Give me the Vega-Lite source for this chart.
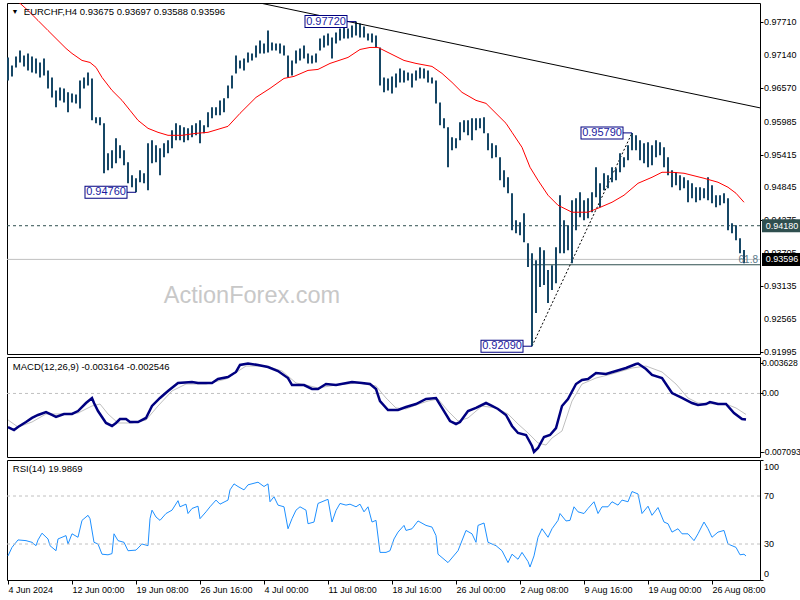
{
"$schema": "https://vega.github.io/schema/vega-lite/v6.json",
"background": "white",
"padding": {"left": 2, "top": 2, "right": 0, "bottom": 0},
"spacing": 3,
"bounds": "flush",
"config": {
  "view": {"stroke": "#000000", "strokeWidth": 1},
  "axis": {"labelFont": "Liberation Sans", "labelFontSize": 9, "labelColor": "#000000", "tickColor": "#000000", "domain": false, "grid": false, "labelFlush": false, "labelOverlap": false},
  "text": {"font": "Liberation Sans", "fontSize": 9.5, "color": "#000000"}
},
"datasets": {
  "one": [{}],
  "mainLabels": [{"v":0.9771,"t":"0.97710"},{"v":0.9714,"t":"0.97140"},{"v":0.9657,"t":"0.96570"},{"v":0.95985,"t":"0.95985"},{"v":0.95415,"t":"0.95415"},{"v":0.94845,"t":"0.94845"},{"v":0.94275,"t":"0.94275"},{"v":0.93705,"t":"0.93705"},{"v":0.93135,"t":"0.93135"},{"v":0.92565,"t":"0.92565"},{"v":0.91995,"t":"0.91995"}],
  "macdLabels": [{"v":0.003628,"t":"0.003628"},{"v":0,"t":"0.00"},{"v":-0.007093,"t":"-0.007093"}],
  "rsiLabels": [{"v":70,"t":"70"},{"v":30,"t":"30"}],
  "bars": [
{"i":0,"h":0.97099,"l":0.96700},{"i":2,"h":0.96960,"l":0.96770},{"i":4,"h":0.97116,"l":0.96926},{"i":6,"h":0.97220,"l":0.97012},{"i":8,"h":0.97133,"l":0.96943},{"i":10,"h":0.97168,"l":0.96874},{"i":12,"h":0.97116,"l":0.96839},{"i":14,"h":0.97081,"l":0.96822},{"i":16,"h":0.97012,"l":0.96752},{"i":18,"h":0.97081,"l":0.96787},
{"i":20,"h":0.96874,"l":0.96562},{"i":22,"h":0.96752,"l":0.96406},{"i":24,"h":0.96527,"l":0.96233},{"i":26,"h":0.96579,"l":0.96354},{"i":28,"h":0.96562,"l":0.96319},{"i":30,"h":0.96493,"l":0.96146},{"i":32,"h":0.96475,"l":0.96319},{"i":34,"h":0.96458,"l":0.96302},{"i":36,"h":0.96700,"l":0.96215},{"i":38,"h":0.96752,"l":0.96562},
{"i":40,"h":0.96839,"l":0.96614},{"i":42,"h":0.96735,"l":0.96008},{"i":44,"h":0.96060,"l":0.95956},{"i":46,"h":0.96060,"l":0.95921},{"i":48,"h":0.95956,"l":0.95090},{"i":50,"h":0.95436,"l":0.95142},{"i":52,"h":0.95488,"l":0.95176},{"i":54,"h":0.95696,"l":0.95263},{"i":56,"h":0.95575,"l":0.95349},{"i":58,"h":0.95488,"l":0.95228},
{"i":60,"h":0.95280,"l":0.94916},{"i":62,"h":0.95055,"l":0.94847},{"i":64,"h":0.95003,"l":0.94760},{"i":66,"h":0.95142,"l":0.94934},{"i":68,"h":0.95090,"l":0.94916},{"i":70,"h":0.95609,"l":0.94795},{"i":72,"h":0.95661,"l":0.95263},{"i":74,"h":0.95575,"l":0.95280},{"i":76,"h":0.95523,"l":0.95055},{"i":78,"h":0.95609,"l":0.95367},
{"i":80,"h":0.95661,"l":0.95436},{"i":82,"h":0.95834,"l":0.95523},{"i":84,"h":0.95956,"l":0.95661},{"i":86,"h":0.95921,"l":0.95661},{"i":88,"h":0.95886,"l":0.95627},{"i":90,"h":0.95869,"l":0.95661},{"i":92,"h":0.95921,"l":0.95713},{"i":94,"h":0.95956,"l":0.95748},{"i":96,"h":0.96008,"l":0.95609},{"i":98,"h":0.95921,"l":0.95782},
{"i":100,"h":0.96146,"l":0.95886},{"i":102,"h":0.96233,"l":0.96042},{"i":104,"h":0.96233,"l":0.96094},{"i":106,"h":0.96354,"l":0.96094},{"i":108,"h":0.96389,"l":0.96146},{"i":110,"h":0.96614,"l":0.96389},{"i":112,"h":0.96787,"l":0.96562},{"i":114,"h":0.97133,"l":0.96822},{"i":116,"h":0.97047,"l":0.96908},{"i":118,"h":0.97081,"l":0.96874},
{"i":120,"h":0.97185,"l":0.97012},{"i":122,"h":0.97168,"l":0.97047},{"i":124,"h":0.97307,"l":0.97099},{"i":126,"h":0.97393,"l":0.97168},{"i":128,"h":0.97341,"l":0.97168},{"i":130,"h":0.97566,"l":0.97185},{"i":132,"h":0.97359,"l":0.97220},{"i":134,"h":0.97341,"l":0.97220},{"i":136,"h":0.97341,"l":0.97168},{"i":138,"h":0.97307,"l":0.97133},
{"i":140,"h":0.97133,"l":0.96752},{"i":142,"h":0.97047,"l":0.96787},{"i":144,"h":0.97220,"l":0.96995},{"i":146,"h":0.97255,"l":0.97047},{"i":148,"h":0.97307,"l":0.97081},{"i":150,"h":0.97168,"l":0.96995},{"i":152,"h":0.97133,"l":0.96995},{"i":154,"h":0.97168,"l":0.97012},{"i":156,"h":0.97428,"l":0.97220},{"i":158,"h":0.97480,"l":0.97272},
{"i":160,"h":0.97514,"l":0.97307},{"i":162,"h":0.97445,"l":0.97081},{"i":164,"h":0.97532,"l":0.97341},{"i":166,"h":0.97601,"l":0.97393},{"i":168,"h":0.97618,"l":0.97428},{"i":170,"h":0.97601,"l":0.97428},{"i":172,"h":0.97653,"l":0.97445},{"i":174,"h":0.97720,"l":0.97480},{"i":176,"h":0.97688,"l":0.97445},{"i":178,"h":0.97636,"l":0.97445},
{"i":180,"h":0.97514,"l":0.97393},{"i":182,"h":0.97514,"l":0.97359},{"i":184,"h":0.97480,"l":0.97272},{"i":186,"h":0.97272,"l":0.96614},{"i":188,"h":0.96752,"l":0.96493},{"i":190,"h":0.96735,"l":0.96527},{"i":192,"h":0.96770,"l":0.96475},{"i":194,"h":0.96822,"l":0.96579},{"i":196,"h":0.96908,"l":0.96666},{"i":198,"h":0.96874,"l":0.96666},
{"i":200,"h":0.96839,"l":0.96700},{"i":202,"h":0.96822,"l":0.96579},{"i":204,"h":0.96874,"l":0.96700},{"i":206,"h":0.96926,"l":0.96735},{"i":208,"h":0.96908,"l":0.96735},{"i":210,"h":0.96874,"l":0.96666},{"i":212,"h":0.96752,"l":0.96648},{"i":214,"h":0.96700,"l":0.96302},{"i":216,"h":0.96319,"l":0.95921},{"i":218,"h":0.96042,"l":0.95869},
{"i":220,"h":0.95886,"l":0.95194},{"i":222,"h":0.95713,"l":0.95488},{"i":224,"h":0.95696,"l":0.95523},{"i":226,"h":0.95973,"l":0.95661},{"i":228,"h":0.96008,"l":0.95800},{"i":230,"h":0.96008,"l":0.95748},{"i":232,"h":0.96042,"l":0.95661},{"i":234,"h":0.96042,"l":0.95834},{"i":236,"h":0.96042,"l":0.95869},{"i":238,"h":0.96060,"l":0.95782},
{"i":240,"h":0.95782,"l":0.95488},{"i":242,"h":0.95609,"l":0.95349},{"i":244,"h":0.95575,"l":0.95367},{"i":246,"h":0.95367,"l":0.94968},{"i":248,"h":0.95142,"l":0.94847},{"i":250,"h":0.95020,"l":0.94743},{"i":252,"h":0.94743,"l":0.94102},{"i":254,"h":0.94276,"l":0.94050},{"i":256,"h":0.94241,"l":0.94016},{"i":258,"h":0.94397,"l":0.93895},
{"i":260,"h":0.93877,"l":0.93462},{"i":262,"h":0.93704,"l":0.92090},{"i":264,"h":0.93583,"l":0.92665},{"i":266,"h":0.93808,"l":0.93115},{"i":268,"h":0.93756,"l":0.93150},{"i":270,"h":0.93410,"l":0.92838},{"i":272,"h":0.93496,"l":0.93063},{"i":274,"h":0.93808,"l":0.93184},{"i":276,"h":0.94709,"l":0.93704},{"i":278,"h":0.94276,"l":0.93704},
{"i":280,"h":0.94189,"l":0.93756},{"i":282,"h":0.94622,"l":0.93531},{"i":284,"h":0.94657,"l":0.94102},{"i":286,"h":0.94761,"l":0.94328},{"i":288,"h":0.94622,"l":0.94276},{"i":290,"h":0.94657,"l":0.94310},{"i":292,"h":0.94761,"l":0.94414},{"i":294,"h":0.95194,"l":0.94674},{"i":296,"h":0.94916,"l":0.94501},{"i":298,"h":0.95090,"l":0.94795},
{"i":300,"h":0.95055,"l":0.94830},{"i":302,"h":0.95194,"l":0.94934},{"i":304,"h":0.95176,"l":0.94968},{"i":306,"h":0.95436,"l":0.95107},{"i":308,"h":0.95367,"l":0.95194},{"i":310,"h":0.95575,"l":0.95315},{"i":312,"h":0.95790,"l":0.95488},{"i":314,"h":0.95748,"l":0.95488},{"i":316,"h":0.95661,"l":0.95315},{"i":318,"h":0.95609,"l":0.95263},
{"i":320,"h":0.95627,"l":0.95194},{"i":322,"h":0.95575,"l":0.95228},{"i":324,"h":0.95661,"l":0.95367},{"i":326,"h":0.95627,"l":0.95401},{"i":328,"h":0.95540,"l":0.95194},{"i":330,"h":0.95367,"l":0.95055},{"i":332,"h":0.95142,"l":0.94847},{"i":334,"h":0.95107,"l":0.94882},{"i":336,"h":0.95055,"l":0.94795},{"i":338,"h":0.95020,"l":0.94830},
{"i":340,"h":0.94968,"l":0.94587},{"i":342,"h":0.94916,"l":0.94657},{"i":344,"h":0.94847,"l":0.94587},{"i":346,"h":0.94847,"l":0.94622},{"i":348,"h":0.94830,"l":0.94657},{"i":350,"h":0.95020,"l":0.94622},{"i":352,"h":0.94882,"l":0.94570},{"i":354,"h":0.94709,"l":0.94501},{"i":356,"h":0.94709,"l":0.94535},{"i":358,"h":0.94743,"l":0.94570},
{"i":360,"h":0.94657,"l":0.94102},{"i":362,"h":0.94224,"l":0.94050},{"i":364,"h":0.94189,"l":0.93929},{"i":366,"h":0.93964,"l":0.93704},{"i":368,"h":0.93760,"l":0.93531}
  ],
  "ma": [
{"i":0,"v":0.98242},{"i":5,"v":0.98069},{"i":10,"v":0.97913},{"i":15,"v":0.97740},{"i":20,"v":0.97566},{"i":25,"v":0.97393},{"i":29,"v":0.97255},{"i":32,"v":0.97168},{"i":37,"v":0.97047},{"i":41,"v":0.97012},{"i":44,"v":0.96926},{"i":47,"v":0.96752},{"i":52,"v":0.96527},{"i":57,"v":0.96354},{"i":61,"v":0.96181},{"i":65,"v":0.96008},{"i":70,"v":0.95869},{"i":75,"v":0.95800},{"i":80,"v":0.95748},{"i":87,"v":0.95748},{"i":94,"v":0.95782},{"i":100,"v":0.95800},{"i":110,"v":0.95904},{"i":116,"v":0.96129},{"i":124,"v":0.96406},{"i":131,"v":0.96562},{"i":138,"v":0.96735},{"i":143,"v":0.96770},{"i":150,"v":0.96874},{"i":155,"v":0.96891},{"i":161,"v":0.96995},{"i":170,"v":0.97099},{"i":176,"v":0.97237},{"i":181,"v":0.97272},{"i":185,"v":0.97272},{"i":191,"v":0.97168},{"i":198,"v":0.97047},{"i":204,"v":0.96995},{"i":212,"v":0.96943},{"i":217,"v":0.96822},{"i":222,"v":0.96666},{"i":227,"v":0.96493},{"i":234,"v":0.96354},{"i":239,"v":0.96302},{"i":244,"v":0.96129},{"i":249,"v":0.95956},{"i":252,"v":0.95800},{"i":257,"v":0.95540},{"i":261,"v":0.95194},{"i":265,"v":0.94968},{"i":270,"v":0.94709},{"i":275,"v":0.94535},{"i":282,"v":0.94414},{"i":290,"v":0.94414},{"i":295,"v":0.94483},{"i":302,"v":0.94587},{"i":308,"v":0.94709},{"i":315,"v":0.94916},{"i":322,"v":0.95020},{"i":327,"v":0.95107},{"i":332,"v":0.95107},{"i":338,"v":0.95090},{"i":348,"v":0.95003},{"i":355,"v":0.94934},{"i":360,"v":0.94847},{"i":364,"v":0.94743},{"i":368,"v":0.94587}
  ],
  "trend": [{"i":126,"v":0.98043},{"i":376,"v":0.96224}],
  "fib": [{"i":262,"v":0.92090},{"i":312,"v":0.95790}],
  "ann": [{"i":174,"v":0.97720,"t":"0.97720"},{"i":64,"v":0.94760,"t":"0.94760"},{"i":312,"v":0.95790,"t":"0.95790"},{"i":262,"v":0.92090,"t":"0.92090"}],
  "macd": [
{"i":0,"m":-0.00407},{"i":3,"m":-0.00443},{"i":5,"m":-0.00407},{"i":9,"m":-0.00346},{"i":12,"m":-0.00297},{"i":15,"m":-0.00261},{"i":19,"m":-0.00225},{"i":22,"m":-0.00261},{"i":24,"m":-0.00285},{"i":28,"m":-0.00249},{"i":32,"m":-0.00249},{"i":35,"m":-0.00213},{"i":39,"m":-0.00116},{"i":42,"m":-0.00055},{"i":43,"m":-0.00116},{"i":45,"m":-0.00213},{"i":49,"m":-0.00358},{"i":52,"m":-0.00394},{"i":54,"m":-0.00358},{"i":56,"m":-0.00310},{"i":59,"m":-0.00310},{"i":61,"m":-0.00346},{"i":65,"m":-0.00346},{"i":69,"m":-0.00297},{"i":72,"m":-0.00152},{"i":76,"m":-0.00055},{"i":80,"m":0.00030},{"i":85,"m":0.00127},{"i":92,"m":0.00139},{"i":95,"m":0.00127},{"i":102,"m":0.00127},{"i":105,"m":0.00175},{"i":110,"m":0.00199},{"i":114,"m":0.00260},{"i":116,"m":0.00345},{"i":120,"m":0.003628},{"i":125,"m":0.00345},{"i":130,"m":0.00320},{"i":135,"m":0.00272},{"i":140,"m":0.00187},{"i":142,"m":0.00102},{"i":148,"m":0.00102},{"i":152,"m":0.00054},{"i":155,"m":0.00054},{"i":159,"m":0.00114},{"i":164,"m":0.00102},{"i":172,"m":0.00139},{"i":177,"m":0.00127},{"i":181,"m":0.00114},{"i":184,"m":0.00054},{"i":186,"m":-0.00092},{"i":190,"m":-0.00201},{"i":195,"m":-0.00201},{"i":199,"m":-0.00164},{"i":204,"m":-0.00128},{"i":209,"m":-0.00067},{"i":214,"m":-0.00055},{"i":217,"m":-0.00176},{"i":221,"m":-0.00334},{"i":224,"m":-0.00370},{"i":226,"m":-0.00346},{"i":230,"m":-0.00213},{"i":234,"m":-0.00176},{"i":239,"m":-0.00116},{"i":242,"m":-0.00152},{"i":245,"m":-0.00188},{"i":249,"m":-0.00261},{"i":252,"m":-0.00394},{"i":255,"m":-0.00479},{"i":259,"m":-0.00503},{"i":262,"m":-0.00637},{"i":263,"m":-0.007093},{"i":265,"m":-0.00661},{"i":268,"m":-0.00528},{"i":271,"m":-0.00503},{"i":274,"m":-0.00419},{"i":277,"m":-0.00152},{"i":280,"m":-0.00067},{"i":284,"m":0.00114},{"i":287,"m":0.00163},{"i":290,"m":0.00175},{"i":294,"m":0.00248},{"i":299,"m":0.00236},{"i":304,"m":0.00272},{"i":309,"m":0.00308},{"i":314,"m":0.00357},{"i":315,"m":0.00362},{"i":319,"m":0.00296},{"i":322,"m":0.00224},{"i":327,"m":0.00187},{"i":332,"m":0.00005},{"i":337,"m":-0.00055},{"i":342,"m":-0.00116},{"i":345,"m":-0.00140},{"i":349,"m":-0.00128},{"i":351,"m":-0.00104},{"i":355,"m":-0.00128},{"i":359,"m":-0.00128},{"i":363,"m":-0.00237},{"i":367,"m":-0.00310},{"i":369,"m":-0.003164}
  ],
  "signal": [
{"i":0,"s":-0.00321},{"i":5,"s":-0.00407},{"i":12,"s":-0.00346},{"i":19,"s":-0.00249},{"i":25,"s":-0.00249},{"i":35,"s":-0.00237},{"i":42,"s":-0.00152},{"i":46,"s":-0.00128},{"i":50,"s":-0.00249},{"i":55,"s":-0.00358},{"i":62,"s":-0.00358},{"i":69,"s":-0.00322},{"i":75,"s":-0.00152},{"i":82,"s":0.00030},{"i":89,"s":0.00114},{"i":99,"s":0.00114},{"i":109,"s":0.00175},{"i":119,"s":0.00332},{"i":129,"s":0.00332},{"i":137,"s":0.00272},{"i":144,"s":0.00127},{"i":149,"s":0.00102},{"i":155,"s":0.00066},{"i":164,"s":0.00102},{"i":175,"s":0.00127},{"i":184,"s":0.00090},{"i":189,"s":-0.00055},{"i":194,"s":-0.00176},{"i":199,"s":-0.00188},{"i":204,"s":-0.00140},{"i":210,"s":-0.00092},{"i":215,"s":-0.00067},{"i":220,"s":-0.00213},{"i":225,"s":-0.00334},{"i":230,"s":-0.00297},{"i":237,"s":-0.00152},{"i":244,"s":-0.00176},{"i":250,"s":-0.00249},{"i":255,"s":-0.00370},{"i":260,"s":-0.00479},{"i":265,"s":-0.00600},{"i":269,"s":-0.00625},{"i":272,"s":-0.00540},{"i":277,"s":-0.00455},{"i":282,"s":-0.00092},{"i":287,"s":0.00114},{"i":294,"s":0.00187},{"i":302,"s":0.00236},{"i":312,"s":0.00308},{"i":319,"s":0.00332},{"i":327,"s":0.00260},{"i":334,"s":0.00114},{"i":340,"s":-0.00055},{"i":345,"s":-0.00116},{"i":354,"s":-0.00128},{"i":359,"s":-0.00128},{"i":364,"s":-0.00176},{"i":369,"s":-0.002546}
  ],
  "rsi": [
{"i":0,"r":20.1},{"i":2,"r":27.2},{"i":5,"r":33.4},{"i":9,"r":32.8},{"i":12,"r":31.4},{"i":14,"r":28.6},{"i":15,"r":33.4},{"i":17,"r":39},{"i":20,"r":34.2},{"i":21,"r":28.6},{"i":24,"r":24.4},{"i":25,"r":34.2},{"i":29,"r":37},{"i":30,"r":30},{"i":32,"r":38.5},{"i":35,"r":35.6},{"i":37,"r":49.7},{"i":40,"r":53.9},{"i":41,"r":51.1},{"i":43,"r":31.4},{"i":45,"r":30},{"i":47,"r":21.5},{"i":50,"r":21},{"i":52,"r":22},{"i":53,"r":38.5},{"i":55,"r":32.8},{"i":58,"r":31.4},{"i":60,"r":24.4},{"i":64,"r":24.9},{"i":67,"r":30},{"i":70,"r":28.6},{"i":71,"r":51.1},{"i":72,"r":58.2},{"i":74,"r":52.5},{"i":76,"r":49.7},{"i":79,"r":55.4},{"i":82,"r":58.2},{"i":85,"r":66.1},{"i":86,"r":61},{"i":89,"r":63.2},{"i":90,"r":55.4},{"i":92,"r":59.6},{"i":95,"r":61.5},{"i":96,"r":51.1},{"i":99,"r":56.8},{"i":101,"r":61},{"i":104,"r":66.6},{"i":106,"r":63.2},{"i":110,"r":66.6},{"i":111,"r":75.1},{"i":113,"r":80.1},{"i":115,"r":77.9},{"i":118,"r":75.1},{"i":120,"r":79.3},{"i":125,"r":81.5},{"i":128,"r":77.9},{"i":130,"r":80.1},{"i":131,"r":65.2},{"i":133,"r":69.4},{"i":135,"r":62.4},{"i":138,"r":61},{"i":140,"r":42.7},{"i":142,"r":51.1},{"i":144,"r":58.2},{"i":146,"r":61},{"i":149,"r":58.2},{"i":150,"r":46.9},{"i":153,"r":48.3},{"i":155,"r":63.8},{"i":159,"r":66.6},{"i":160,"r":67.2},{"i":162,"r":48.3},{"i":164,"r":57.9},{"i":166,"r":63.8},{"i":169,"r":62.4},{"i":171,"r":63.2},{"i":174,"r":61},{"i":176,"r":63.2},{"i":178,"r":56.8},{"i":180,"r":61},{"i":182,"r":48.3},{"i":184,"r":49.7},{"i":186,"r":23},{"i":189,"r":23},{"i":191,"r":24.4},{"i":193,"r":34.2},{"i":195,"r":39.9},{"i":198,"r":45.5},{"i":199,"r":41.3},{"i":202,"r":42.7},{"i":205,"r":49.2},{"i":209,"r":45.5},{"i":212,"r":44.1},{"i":214,"r":37},{"i":215,"r":21.5},{"i":220,"r":14.5},{"i":225,"r":24.4},{"i":229,"r":41.3},{"i":232,"r":38.5},{"i":234,"r":31.4},{"i":235,"r":45.5},{"i":238,"r":47.5},{"i":240,"r":31.4},{"i":244,"r":28.6},{"i":247,"r":24.4},{"i":250,"r":14.5},{"i":252,"r":21.5},{"i":255,"r":17.3},{"i":257,"r":23},{"i":260,"r":15.4},{"i":261,"r":10.8},{"i":263,"r":20.1},{"i":265,"r":35.6},{"i":267,"r":42.7},{"i":270,"r":35.6},{"i":272,"r":42.7},{"i":275,"r":49.7},{"i":276,"r":55.4},{"i":279,"r":49.2},{"i":281,"r":49.7},{"i":283,"r":61},{"i":285,"r":56.8},{"i":288,"r":55.4},{"i":290,"r":59.6},{"i":293,"r":65.2},{"i":295,"r":55.4},{"i":297,"r":61},{"i":300,"r":61},{"i":302,"r":65.2},{"i":305,"r":62.4},{"i":307,"r":66.6},{"i":310,"r":65.2},{"i":312,"r":73.7},{"i":315,"r":71.7},{"i":317,"r":55.4},{"i":320,"r":61.5},{"i":322,"r":53.9},{"i":325,"r":60.4},{"i":328,"r":48.3},{"i":330,"r":46.9},{"i":332,"r":39.9},{"i":335,"r":42.7},{"i":337,"r":38.5},{"i":340,"r":38.5},{"i":343,"r":32.8},{"i":345,"r":38.5},{"i":348,"r":48.3},{"i":350,"r":42.7},{"i":352,"r":35.6},{"i":355,"r":39.9},{"i":358,"r":41.3},{"i":360,"r":30},{"i":364,"r":27.2},{"i":366,"r":21},{"i":368,"r":21.5},{"i":369,"r":19.9869}
  ]
},
"vconcat": [
  {
    "width": 753, "height": 351,
    "layer": [
      {"data": {"name": "one"},
       "mark": {"type": "rule", "color": "#2F4F4F", "strokeDash": [3, 3], "strokeWidth": 1},
       "encoding": {"y": {"datum": 0.9418, "type": "quantitative", "scale": {"domain": [0.91955, 0.98043], "nice": false, "zero": false},
         "axis": {"orient": "right", "values": [0.9771, 0.9714, 0.9657, 0.95985, 0.95415, 0.94845, 0.94275, 0.93705, 0.93135, 0.92565, 0.91995], "labels": false, "tickSize": 3, "title": null}}}},
      {"data": {"name": "one"},
       "mark": {"type": "rule", "color": "#C0C0C0", "strokeWidth": 1},
       "encoding": {"y": {"datum": 0.93596, "type": "quantitative", "scale": {"domain": [0.91955, 0.98043], "nice": false, "zero": false}}}},
      {"data": {"name": "one"},
       "mark": {"type": "rule", "color": "#2F4F4F", "strokeWidth": 1},
       "encoding": {"x": {"datum": 262, "type": "quantitative", "scale": {"domain": [-0.5, 376], "nice": false, "zero": false}, "axis": null},
         "x2": {"datum": 376},
         "y": {"datum": 0.93503, "type": "quantitative", "scale": {"domain": [0.91955, 0.98043], "nice": false, "zero": false}}}},
      {"data": {"name": "one"},
       "mark": {"type": "text", "font": "Liberation Sans", "fontSize": 23.5, "color": "#C8C8C8", "align": "center", "baseline": "alphabetic"},
       "encoding": {"x": {"datum": 122, "type": "quantitative", "scale": {"domain": [-0.5, 376], "nice": false, "zero": false}, "axis": null},
         "y": {"datum": 0.92838, "type": "quantitative", "scale": {"domain": [0.91955, 0.98043], "nice": false, "zero": false}},
         "text": {"value": "ActionForex.com"}}},
      {"data": {"name": "fib"},
       "mark": {"type": "line", "color": "#000000", "strokeWidth": 1, "strokeDash": [2, 2]},
       "encoding": {"x": {"field": "i", "type": "quantitative", "scale": {"domain": [-0.5, 376], "nice": false, "zero": false}, "axis": null},
         "y": {"field": "v", "type": "quantitative", "scale": {"domain": [0.91955, 0.98043], "nice": false, "zero": false}}}},
      {"data": {"name": "bars"},
       "mark": {"type": "rule", "color": "#174766", "strokeWidth": 2},
       "encoding": {"x": {"field": "i", "type": "quantitative", "scale": {"domain": [-0.5, 376], "nice": false, "zero": false}, "axis": null},
         "y": {"field": "l", "type": "quantitative", "scale": {"domain": [0.91955, 0.98043], "nice": false, "zero": false}},
         "y2": {"field": "h"}}},
      {"data": {"name": "ma"},
       "mark": {"type": "line", "color": "#FF0000", "strokeWidth": 1, "clip": true},
       "encoding": {"x": {"field": "i", "type": "quantitative", "scale": {"domain": [-0.5, 376], "nice": false, "zero": false}, "axis": null},
         "y": {"field": "v", "type": "quantitative", "scale": {"domain": [0.91955, 0.98043], "nice": false, "zero": false}}}},
      {"data": {"name": "trend"},
       "mark": {"type": "line", "color": "#000000", "strokeWidth": 1, "clip": true},
       "encoding": {"x": {"field": "i", "type": "quantitative", "scale": {"domain": [-0.5, 376], "nice": false, "zero": false}, "axis": null},
         "y": {"field": "v", "type": "quantitative", "scale": {"domain": [0.91955, 0.98043], "nice": false, "zero": false}}}},
      {"data": {"name": "ann"},
       "mark": {"type": "tick", "orient": "horizontal", "size": 9, "thickness": 1, "color": "#000080", "opacity": 1, "xOffset": -4.5},
       "encoding": {"x": {"field": "i", "type": "quantitative", "scale": {"domain": [-0.5, 376], "nice": false, "zero": false}, "axis": null},
         "y": {"field": "v", "type": "quantitative", "scale": {"domain": [0.91955, 0.98043], "nice": false, "zero": false}}}},
      {"data": {"name": "ann"},
       "mark": {"type": "tick", "orient": "horizontal", "size": 43, "thickness": 13, "color": "#000080", "opacity": 1, "xOffset": -30},
       "encoding": {"x": {"field": "i", "type": "quantitative", "scale": {"domain": [-0.5, 376], "nice": false, "zero": false}, "axis": null},
         "y": {"field": "v", "type": "quantitative", "scale": {"domain": [0.91955, 0.98043], "nice": false, "zero": false}}}},
      {"data": {"name": "ann"},
       "mark": {"type": "tick", "orient": "horizontal", "size": 41, "thickness": 11, "color": "#FFFFFF", "opacity": 1, "xOffset": -30},
       "encoding": {"x": {"field": "i", "type": "quantitative", "scale": {"domain": [-0.5, 376], "nice": false, "zero": false}, "axis": null},
         "y": {"field": "v", "type": "quantitative", "scale": {"domain": [0.91955, 0.98043], "nice": false, "zero": false}}}},
      {"data": {"name": "ann"},
       "mark": {"type": "text", "fontSize": 11, "color": "#1A1AA0", "align": "center", "baseline": "middle", "dx": -30},
       "encoding": {"x": {"field": "i", "type": "quantitative", "scale": {"domain": [-0.5, 376], "nice": false, "zero": false}, "axis": null},
         "y": {"field": "v", "type": "quantitative", "scale": {"domain": [0.91955, 0.98043], "nice": false, "zero": false}},
         "text": {"field": "t"}}},
      {"data": {"name": "one"},
       "mark": {"type": "text", "fontSize": 10, "color": "#5A7A8A", "align": "right", "baseline": "alphabetic", "dy": -2, "dx": -2},
       "encoding": {"x": {"datum": 376, "type": "quantitative", "scale": {"domain": [-0.5, 376], "nice": false, "zero": false}, "axis": null},
         "y": {"datum": 0.93503, "type": "quantitative", "scale": {"domain": [0.91955, 0.98043], "nice": false, "zero": false}},
         "text": {"value": "61.8"}}},
      {"data": {"name": "mainLabels"},
       "mark": {"type": "text", "fontSize": 9, "color": "#000000", "align": "left", "baseline": "middle", "dx": 4},
       "encoding": {"x": {"datum": 376, "type": "quantitative", "scale": {"domain": [-0.5, 376], "nice": false, "zero": false}, "axis": null},
         "y": {"field": "v", "type": "quantitative", "scale": {"domain": [0.91955, 0.98043], "nice": false, "zero": false}},
         "text": {"field": "t"}}},
      {"data": {"name": "one"},
       "mark": {"type": "tick", "orient": "horizontal", "size": 40, "thickness": 13, "color": "#2F4F4F", "opacity": 1},
       "encoding": {"x": {"datum": 387, "type": "quantitative", "scale": {"domain": [-0.5, 376], "nice": false, "zero": false}, "axis": null},
         "y": {"datum": 0.9418, "type": "quantitative", "scale": {"domain": [0.91955, 0.98043], "nice": false, "zero": false}}}},
      {"data": {"name": "one"},
       "mark": {"type": "text", "color": "#FFFFFF", "fontSize": 9, "align": "center", "baseline": "middle"},
       "encoding": {"x": {"datum": 387, "type": "quantitative", "scale": {"domain": [-0.5, 376], "nice": false, "zero": false}, "axis": null},
         "y": {"datum": 0.9418, "type": "quantitative", "scale": {"domain": [0.91955, 0.98043], "nice": false, "zero": false}},
         "text": {"value": "0.94180"}}},
      {"data": {"name": "one"},
       "mark": {"type": "tick", "orient": "horizontal", "size": 40, "thickness": 13, "color": "#000000", "opacity": 1},
       "encoding": {"x": {"datum": 387, "type": "quantitative", "scale": {"domain": [-0.5, 376], "nice": false, "zero": false}, "axis": null},
         "y": {"datum": 0.93596, "type": "quantitative", "scale": {"domain": [0.91955, 0.98043], "nice": false, "zero": false}}}},
      {"data": {"name": "one"},
       "mark": {"type": "text", "color": "#FFFFFF", "fontSize": 9, "align": "center", "baseline": "middle"},
       "encoding": {"x": {"datum": 387, "type": "quantitative", "scale": {"domain": [-0.5, 376], "nice": false, "zero": false}, "axis": null},
         "y": {"datum": 0.93596, "type": "quantitative", "scale": {"domain": [0.91955, 0.98043], "nice": false, "zero": false}},
         "text": {"value": "0.93596"}}},
      {"data": {"name": "one"},
       "mark": {"type": "text", "fontSize": 7, "color": "#000000", "align": "center", "baseline": "middle"},
       "encoding": {"x": {"datum": 3.5, "type": "quantitative", "scale": {"domain": [-0.5, 376], "nice": false, "zero": false}, "axis": null},
         "y": {"datum": 0.97887, "type": "quantitative", "scale": {"domain": [0.91955, 0.98043], "nice": false, "zero": false}},
         "text": {"value": "▼"}}},
      {"data": {"name": "one"},
       "mark": {"type": "text", "color": "#000000", "align": "left", "baseline": "middle"},
       "encoding": {"x": {"datum": 7.9, "type": "quantitative", "scale": {"domain": [-0.5, 376], "nice": false, "zero": false}, "axis": null},
         "y": {"datum": 0.97887, "type": "quantitative", "scale": {"domain": [0.91955, 0.98043], "nice": false, "zero": false}},
         "text": {"value": "EURCHF,H4  0.93675 0.93697 0.93588 0.93596"}}}
    ]
  },
  {
    "width": 753, "height": 100,
    "layer": [
      {"data": {"name": "one"},
       "mark": {"type": "rule", "color": "#C0C0C0", "strokeDash": [3, 3], "strokeWidth": 1},
       "encoding": {"y": {"datum": 0, "type": "quantitative", "scale": {"domain": [-0.0077, 0.004415], "nice": false, "zero": false},
         "axis": {"orient": "right", "values": [0.003628, 0, -0.007093], "labels": false, "tickSize": 3, "title": null}}}},
      {"data": {"name": "signal"},
       "mark": {"type": "line", "color": "#C0C0C0", "strokeWidth": 1},
       "encoding": {"x": {"field": "i", "type": "quantitative", "scale": {"domain": [-0.5, 376], "nice": false, "zero": false}, "axis": null},
         "y": {"field": "s", "type": "quantitative", "scale": {"domain": [-0.0077, 0.004415], "nice": false, "zero": false}}}},
      {"data": {"name": "macd"},
       "mark": {"type": "line", "color": "#000080", "strokeWidth": 2.5},
       "encoding": {"x": {"field": "i", "type": "quantitative", "scale": {"domain": [-0.5, 376], "nice": false, "zero": false}, "axis": null},
         "y": {"field": "m", "type": "quantitative", "scale": {"domain": [-0.0077, 0.004415], "nice": false, "zero": false}}}},
      {"data": {"name": "macdLabels"},
       "mark": {"type": "text", "fontSize": 8.6, "color": "#000000", "align": "left", "baseline": "middle", "dx": 2},
       "encoding": {"x": {"datum": 376, "type": "quantitative", "scale": {"domain": [-0.5, 376], "nice": false, "zero": false}, "axis": null},
         "y": {"field": "v", "type": "quantitative", "scale": {"domain": [-0.0077, 0.004415], "nice": false, "zero": false}},
         "text": {"field": "t"}}},
      {"data": {"name": "one"},
       "mark": {"type": "text", "color": "#000000", "align": "left", "baseline": "middle"},
       "encoding": {"x": {"datum": 2.4, "type": "quantitative", "scale": {"domain": [-0.5, 376], "nice": false, "zero": false}, "axis": null},
         "y": {"datum": 0.00324, "type": "quantitative", "scale": {"domain": [-0.0077, 0.004415], "nice": false, "zero": false}},
         "text": {"value": "MACD(12,26,9) -0.003164 -0.002546"}}}
    ]
  },
  {
    "width": 753, "height": 120,
    "layer": [
      {"data": {"name": "rsi"},
       "mark": {"type": "line", "color": "#1E90FF", "strokeWidth": 1},
       "encoding": {"x": {"field": "i", "type": "quantitative", "scale": {"domain": [-0.5, 376], "nice": false, "zero": false},
           "axis": {"orient": "bottom", "values": [0, 32, 64, 96, 128, 160, 192, 224, 256, 288, 320, 352], "labelExpr": "['4 Jun 2024','12 Jun 00:00','19 Jun 08:00','26 Jun 16:00','4 Jul 00:00','11 Jul 08:00','18 Jul 16:00','26 Jul 00:00','2 Aug 08:00','9 Aug 16:00','19 Aug 00:00','26 Aug 08:00'][round(datum.value / 32)]", "labelAlign": "left", "labelBaseline": "top", "tickSize": 4, "labelPadding": 1, "labelOverlap": false, "labelFlush": false, "title": null}},
         "y": {"field": "r", "type": "quantitative", "scale": {"domain": [0, 100], "nice": false, "zero": false},
           "axis": {"orient": "right", "values": [100, 70, 30, 0], "labels": false, "tickSize": 3, "title": null}}}},
      {"data": {"name": "one"},
       "mark": {"type": "rule", "color": "#C0C0C0", "strokeDash": [3, 3], "strokeWidth": 1},
       "encoding": {"y": {"datum": 70, "type": "quantitative", "scale": {"domain": [0, 100], "nice": false, "zero": false}}}},
      {"data": {"name": "one"},
       "mark": {"type": "rule", "color": "#C0C0C0", "strokeDash": [3, 3], "strokeWidth": 1},
       "encoding": {"y": {"datum": 30, "type": "quantitative", "scale": {"domain": [0, 100], "nice": false, "zero": false}}}},
      {"data": {"name": "rsiLabels"},
       "mark": {"type": "text", "fontSize": 9, "color": "#000000", "align": "left", "baseline": "middle", "dx": 4},
       "encoding": {"x": {"datum": 376, "type": "quantitative", "scale": {"domain": [-0.5, 376], "nice": false, "zero": false}},
         "y": {"field": "v", "type": "quantitative", "scale": {"domain": [0, 100], "nice": false, "zero": false}},
         "text": {"field": "t"}}},
      {"data": {"name": "one"},
       "mark": {"type": "text", "fontSize": 9, "color": "#000000", "align": "left", "baseline": "middle", "dx": 4, "dy": 7},
       "encoding": {"x": {"datum": 376, "type": "quantitative", "scale": {"domain": [-0.5, 376], "nice": false, "zero": false}},
         "y": {"datum": 100, "type": "quantitative", "scale": {"domain": [0, 100], "nice": false, "zero": false}},
         "text": {"value": "100"}}},
      {"data": {"name": "one"},
       "mark": {"type": "text", "fontSize": 9, "color": "#000000", "align": "left", "baseline": "middle", "dx": 4, "dy": -6},
       "encoding": {"x": {"datum": 376, "type": "quantitative", "scale": {"domain": [-0.5, 376], "nice": false, "zero": false}},
         "y": {"datum": 0, "type": "quantitative", "scale": {"domain": [0, 100], "nice": false, "zero": false}},
         "text": {"value": "0"}}},
      {"data": {"name": "one"},
       "mark": {"type": "text", "color": "#000000", "align": "left", "baseline": "middle"},
       "encoding": {"x": {"datum": 2.4, "type": "quantitative", "scale": {"domain": [-0.5, 376], "nice": false, "zero": false}},
         "y": {"datum": 92.25, "type": "quantitative", "scale": {"domain": [0, 100], "nice": false, "zero": false}},
         "text": {"value": "RSI(14) 19.9869"}}}
    ]
  }
]
}
